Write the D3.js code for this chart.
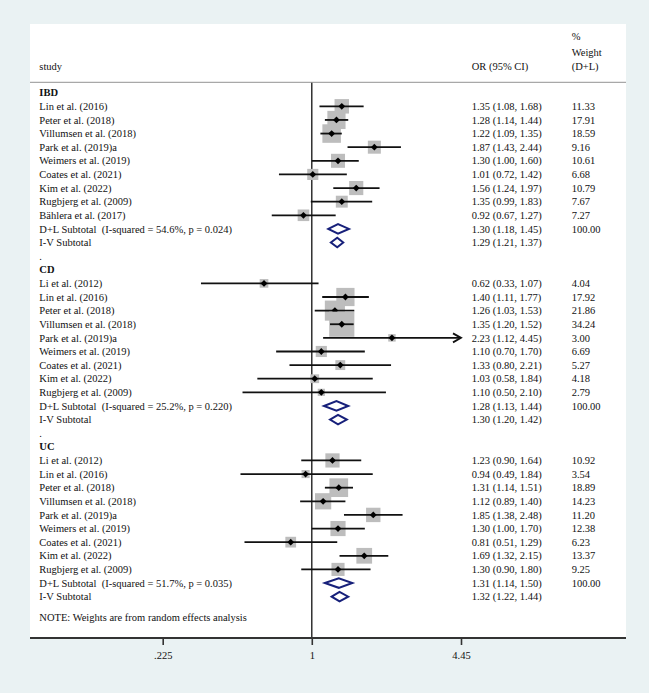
<!DOCTYPE html>
<html><head><meta charset="utf-8">
<script src="https://cdn.jsdelivr.net/npm/d3@7"></script>
<style>body{margin:0;background:#eaf2f3;} svg{display:block;} text{white-space:pre;}</style>
</head><body>
<svg id="chart" width="649" height="693"></svg>
<script>
// ---- data ----
const ibdStudies = ["Lin et al. (2016)","Peter et al. (2018)","Villumsen et al. (2018)","Park et al. (2019)a","Weimers et al. (2019)","Coates et al. (2021)","Kim et al. (2022)","Rugbjerg et al. (2009)","Bählera et al. (2017)"];
const ibdOR = [1.35,1.28,1.22,1.87,1.30,1.01,1.56,1.35,0.92];
const ibdLo = [1.08,1.14,1.09,1.43,1.00,0.72,1.24,0.99,0.67];
const ibdHi = [1.68,1.44,1.35,2.44,1.60,1.42,1.97,1.83,1.27];
const ibdW  = [11.33,17.91,18.59,9.16,10.61,6.68,10.79,7.67,7.27];
const ibdDL = [1.30,1.18,1.45]; const ibdIV = [1.29,1.21,1.37];
const ibdHet = "D+L Subtotal  (I-squared = 54.6%, p = 0.024)";

const cdStudies = ["Li et al. (2012)","Lin et al. (2016)","Peter et al. (2018)","Villumsen et al. (2018)","Park et al. (2019)a","Weimers et al. (2019)","Coates et al. (2021)","Kim et al. (2022)","Rugbjerg et al. (2009)"];
const cdOR = [0.62,1.40,1.26,1.35,2.23,1.10,1.33,1.03,1.10];
const cdLo = [0.33,1.11,1.03,1.20,1.12,0.70,0.80,0.58,0.50];
const cdHi = [1.07,1.77,1.53,1.52,4.45,1.70,2.21,1.84,2.10];
const cdW  = [4.04,17.92,21.86,34.24,3.00,6.69,5.27,4.18,2.79];
const cdDL = [1.28,1.13,1.44]; const cdIV = [1.30,1.20,1.42];
const cdHet = "D+L Subtotal  (I-squared = 25.2%, p = 0.220)";

const ucStudies = ["Li et al. (2012)","Lin et al. (2016)","Peter et al. (2018)","Villumsen et al. (2018)","Park et al. (2019)a","Weimers et al. (2019)","Coates et al. (2021)","Kim et al. (2022)","Rugbjerg et al. (2009)"];
const ucOR = [1.23,0.94,1.31,1.12,1.85,1.30,0.81,1.69,1.30];
const ucLo = [0.90,0.49,1.14,0.89,1.38,1.00,0.51,1.32,0.90];
const ucHi = [1.64,1.84,1.51,1.40,2.48,1.70,1.29,2.15,1.80];
const ucW  = [10.92,3.54,18.89,14.23,11.20,12.38,6.23,13.37,9.25];
const ucDL = [1.31,1.14,1.50]; const ucIV = [1.32,1.22,1.44];
const ucHet = "D+L Subtotal  (I-squared = 51.7%, p = 0.035)";

const tickValues = [0.225, 1, 4.45];
const tickLabels = [".225", "1", "4.45"];

// ---- build rows ----
const groups = [
  {name:"IBD", studies:ibdStudies, or:ibdOR, lo:ibdLo, hi:ibdHi, w:ibdW, dl:ibdDL, iv:ibdIV, het:ibdHet},
  {name:"CD", studies:cdStudies, or:cdOR, lo:cdLo, hi:cdHi, w:cdW, dl:cdDL, iv:cdIV, het:cdHet},
  {name:"UC", studies:ucStudies, or:ucOR, lo:ucLo, hi:ucHi, w:ucW, dl:ucDL, iv:ucIV, het:ucHet}
];
const rows = [];
groups.forEach((g, gi) => {
  if (gi > 0) rows.push({type:"dot"});
  rows.push({type:"header", label:g.name});
  g.studies.forEach((s, i) => rows.push({type:"study", label:s, or:g.or[i], lo:g.lo[i], hi:g.hi[i], w:g.w[i]}));
  rows.push({type:"dl", label:g.het, or:g.dl[0], lo:g.dl[1], hi:g.dl[2], w:100});
  rows.push({type:"iv", label:"I-V Subtotal", or:g.iv[0], lo:g.iv[1], hi:g.iv[2]});
});

// ---- layout ----
const svg = d3.select("#chart");
const plotL = 30, plotR = 626, plotT = 24, axisY = 638;
const fontFam = "'Liberation Serif','Times New Roman',serif";
const fs = 10.5;
const x = d3.scaleLog().domain([0.225, 4.45]).range([162.7, 461]);
const y = d3.scaleLinear().domain([0, rows.length - 1]).range([92.7, 92.7 + 13.62 * (rows.length - 1)]);
const xStudy = 39.3, xOR = 471.7, xW = 571.7;

svg.append("rect").attr("x",0).attr("y",0).attr("width",649).attr("height",693).attr("fill","#eaf2f3");
svg.append("rect").attr("x",plotL).attr("y",plotT).attr("width",plotR-plotL).attr("height",axisY-plotT).attr("fill","#ffffff");

const txt = (xx, yy, s, bold) => svg.append("text").attr("x",xx).attr("y",yy).attr("dy","0.35em")
  .attr("xml:space","preserve")
  .attr("font-family",fontFam).attr("font-size",fs).attr("fill","#111")
  .attr("font-weight", bold ? "bold" : "normal").text(s);

// header
txt(xStudy, 66, "study");
txt(xOR, 66, "OR (95% CI)");
txt(xW, 36.7, "%");
txt(xW, 52.3, "Weight");
txt(xW, 66.3, "(D+L)");
svg.append("line").attr("x1",plotL).attr("x2",plotR).attr("y1",82.3).attr("y2",82.3).attr("stroke","#a8a8a8").attr("stroke-width",1.2);

// reference line at 1
svg.append("line").attr("x1",x(1)).attr("x2",x(1)).attr("y1",82.8).attr("y2",axisY).attr("stroke","#222").attr("stroke-width",1.4);

const navy = "#17207a";
const xMin = x.domain()[0], xMax = x.domain()[1];

rows.forEach((r, i) => {
  const yy = y(i);
  if (r.type === "dot") { txt(xStudy, yy, "."); return; }
  if (r.type === "header") { txt(xStudy, yy, r.label, true); return; }
  txt(xStudy, yy, r.label);
  txt(xOR, yy, `${r.or.toFixed(2)} (${r.lo.toFixed(2)}, ${r.hi.toFixed(2)})`);
  if (r.w !== undefined) txt(xW, yy, r.w.toFixed(2));
  if (r.type === "study") {
    const s = 4.3 * Math.sqrt(r.w);
    svg.append("rect").attr("x", x(r.or) - s/2).attr("y", yy - s/2).attr("width", s).attr("height", s).attr("fill","#bdbdbd");
    const arrow = r.hi >= xMax;
    const x2 = x(Math.min(r.hi, xMax));
    svg.append("line").attr("x1", x(Math.max(r.lo, xMin))).attr("x2", arrow ? x2 - 2 : x2).attr("y1", yy).attr("y2", yy)
      .attr("stroke","#111").attr("stroke-width",1.8);
    if (arrow) {
      svg.append("path").attr("d", `M${x2-8},${yy-4.5} L${x2},${yy} L${x2-8},${yy+4.5}`)
        .attr("fill","none").attr("stroke","#111").attr("stroke-width",1.8);
    }
    const m = 3.4, cx = x(r.or);
    svg.append("path").attr("d", `M${cx-m},${yy} L${cx},${yy-m} L${cx+m},${yy} L${cx},${yy+m} Z`).attr("fill","#000");
  } else {
    const h = 4.8;
    svg.append("path").attr("d", `M${x(r.lo)},${yy} L${x(r.or)},${yy-h} L${x(r.hi)},${yy} L${x(r.or)},${yy+h} Z`)
      .attr("fill","#fff").attr("stroke",navy).attr("stroke-width",2);
  }
});

// note
txt(xStudy, 617.3, "NOTE: Weights are from random effects analysis");

// axis
const axis = d3.axisBottom(x).tickValues(tickValues).tickFormat((d, i) => tickLabels[i]).tickSize(7).tickSizeOuter(0);
const ag = svg.append("g").attr("transform", `translate(0,${axisY})`).call(axis);
ag.select(".domain").remove();
ag.selectAll(".tick line").attr("stroke","#333").attr("stroke-width",1.6);
ag.selectAll(".tick text").attr("font-family",fontFam).attr("font-size",fs).attr("fill","#111").attr("dy","0").attr("y",20.5);
svg.append("line").attr("x1",plotL).attr("x2",plotR).attr("y1",axisY).attr("y2",axisY).attr("stroke","#333").attr("stroke-width",1.8);
</script>
</body></html>
